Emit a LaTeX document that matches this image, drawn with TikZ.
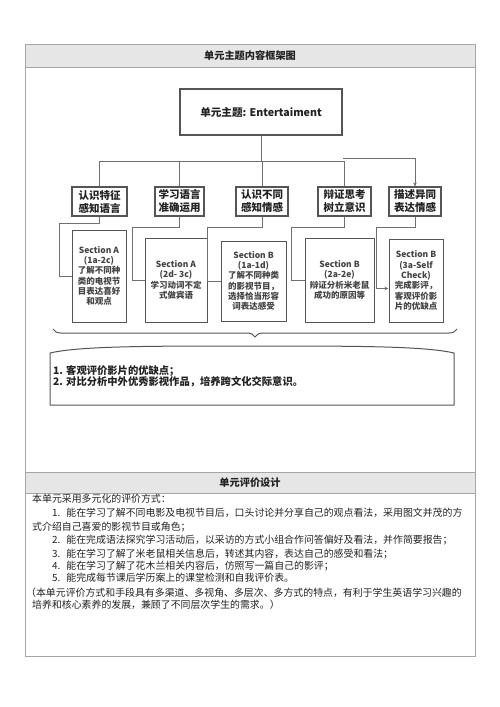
\documentclass[tikz,border=0pt]{standalone}
\usepackage{fontspec}
\setmainfont{Noto Sans CJK SC}
\usetikzlibrary{arrows.meta,decorations.pathreplacing,calc}
\definecolor{hdrgray}{HTML}{E6E6E6}
\definecolor{tblgray}{HTML}{A6A6A6}
\definecolor{boxgray}{HTML}{555555}
\definecolor{lngray}{HTML}{707070}
\definecolor{txt}{HTML}{222222}
\begin{document}
\begin{tikzpicture}[x=1pt,y=-1pt,
 tbl/.style={draw=tblgray,line width=0.9pt},
 mainbox/.style={draw=boxgray,line width=1.3pt,minimum width=162pt,minimum height=46pt,inner sep=0pt,font=\bfseries\fontsize{10.6}{13}\selectfont,text=txt},
 catbox/.style={draw=boxgray,line width=1.1pt,minimum height=29pt,inner sep=0pt,align=center,font=\bfseries\fontsize{10.5}{13}\selectfont,text=txt},
 secbox/.style={draw=boxgray,line width=1pt,inner sep=0pt,align=center,font=\bfseries\fontsize{8.5}{10.3}\selectfont,text=txt!85},
 conn/.style={draw=lngray,line width=0.9pt},
 arr/.style={conn,-{Stealth[length=4pt,width=3.5pt]}},
 hdr/.style={font=\bfseries\fontsize{10.2}{12}\selectfont,text=txt},
 goal/.style={anchor=west,inner sep=0pt,align=left,font=\bfseries\fontsize{10.3}{11.5}\selectfont,text=txt},
 body/.style={anchor=base west,inner sep=0pt,font=\fontsize{9.9}{12}\selectfont,text=txt}]
\useasboundingbox (0,0) rectangle (500,707);
\fill[white] (0,0) rectangle (500,707);
% table
\fill[hdrgray] (25,44) rectangle (475,67);
\fill[hdrgray] (25,472) rectangle (475,493);
\draw[tbl] (25,44) rectangle (475,656);
\draw[tbl] (25,67) -- (475,67);
\draw[tbl] (25,472) -- (475,472);
\draw[tbl] (25,493) -- (475,493);
\node[hdr] (h1) at (250,56) {单元主题内容框架图};
\node[hdr] (h2) at (250,482.5) {单元评价设计};
% main box
\node[mainbox] (m) at (261,112) {单元主题: Entertaiment};
% category boxes
\node[catbox,minimum width=55pt] (c1) at (99.5,201.5) {认识特征\\感知语言};
\node[catbox,minimum width=49pt] (c2) at (179.5,201.5) {学习语言\\准确运用};
\node[catbox,minimum width=52pt] (c3) at (262,201.5) {认识不同\\感知情感};
\node[catbox,minimum width=53pt] (c4) at (344.5,201.5) {辩证思考\\树立意识};
\node[catbox,minimum width=52pt] (c5) at (415,201.5) {描述异同\\表达情感};
% tree connectors
\coordinate (bar) at (261,161);
\coordinate (a5) at (343,158);
\draw[conn] (m.south) -- (bar);
\draw[conn] (c1.north) |- (bar);
\draw[conn] (c2.north) |- (bar);
\draw[conn] (c3.north) |- (bar);
\draw[conn] (c4.north) |- (bar);
\draw[arr] (a5) -| (c5.north);
% section boxes
\node[secbox,minimum width=54pt,minimum height=92pt] (s1) at (99,276) {Section A\\(1a-2c)\\了解不同种\\类的电视节\\目表达喜好\\和观点};
\node[secbox,minimum width=62pt,minimum height=84pt] (s2) at (176,280) {Section A\\(2d- 3c)\\学习动词不定\\式做宾语};
\node[secbox,minimum width=65pt,minimum height=80pt] (s3) at (253.5,281) {Section B\\(1a-1d)\\了解不同种类\\的影视节目，\\选择恰当形容\\词表达感受};
\node[secbox,minimum width=69pt,minimum height=84pt] (s4) at (339.5,280) {Section B\\(2a-2e)\\辩证分析米老鼠\\成功的原因等};
\node[secbox,minimum width=54pt,minimum height=83pt] (s5) at (416,280.5) {Section B\\(3a-Self\\Check)\\完成影评，\\客观评价影\\片的优缺点};
% elbow connectors
\draw[conn] (c1.south) -- ++(0,7) -| ([xshift=-12pt]s1.west) -- (s1.west);
\draw[conn] (c2.south) -- ++(0,11) -| ([xshift=-12pt]s2.west) -- (s2.west);
\draw[conn] (c3.south) -- ++(0,11) -| ([xshift=-13pt]s3.west) -- (s3.west);
\draw[conn] (c4.south) -- ++(0,11) -| ([xshift=-13pt]s4.west) -- (s4.west);
\draw[arr] (c5.south) -- ++(0,11) -| ([xshift=-12pt,yshift=-8pt]s5.west) -- ([yshift=-8pt]s5.west);
% brace
\coordinate (bl) at (53,329);
\coordinate (br) at (457,329);
\draw[boxgray,line width=1pt,decorate,decoration={brace,mirror,amplitude=8pt}] (bl) -- (br);
% goal box
\draw[boxgray,line width=1pt] (50,405) -- (50,353) .. controls (80,346) and (150,346) .. (252,346) .. controls (354,346) and (424,346) .. (454,353) -- (454,405) -- cycle;
\node[goal] (g) at (53,376.5) {1. 客观评价影片的优缺点；\\2. 对比分析中外优秀影视作品，培养跨文化交际意识。};
% evaluation text
\node[body] (b1) at (32,502.5) {本单元采用多元化的评价方式：};
\node[body] (b2) at (52,516.5) {1.\hspace{6pt}能在学习了解不同电影及电视节目后，口头讨论并分享自己的观点看法，采用图文并茂的方};
\node[body] (b3) at (32,530.5) {式介绍自己喜爱的影视节目或角色；};
\node[body] (b4) at (52,543.5) {2.\hspace{6pt}能在完成语法探究学习活动后，以采访的方式小组合作问答偏好及看法，并作简要报告；};
\node[body] (b5) at (52,557.5) {3.\hspace{6pt}能在学习了解了米老鼠相关信息后，转述其内容，表达自己的感受和看法；};
\node[body] (b6) at (52,569.5) {4.\hspace{6pt}能在学习了解了花木兰相关内容后，仿照写一篇自己的影评；};
\node[body] (b7) at (52,581.5) {5.\hspace{6pt}能完成每节课后学历案上的课堂检测和自我评价表。};
\node[body] (b8) at (26,596.5) {（本单元评价方式和手段具有多渠道、多视角、多层次、多方式的特点，有利于学生英语学习兴趣的};
\node[body] (b9) at (32,608.5) {培养和核心素养的发展，兼顾了不同层次学生的需求。）};
\end{tikzpicture}
\end{document}
